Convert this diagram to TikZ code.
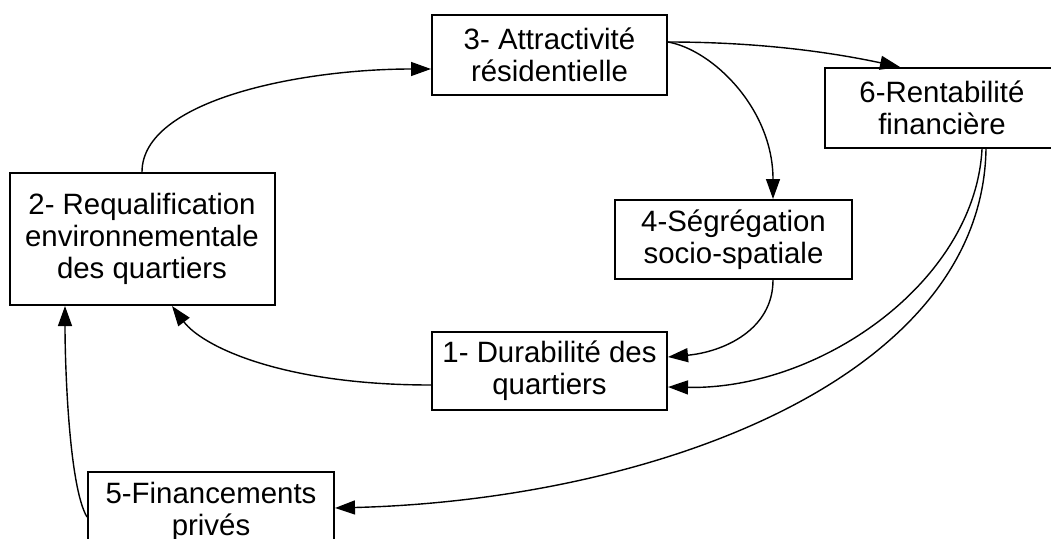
\documentclass[tikz,border=0pt]{standalone}
\usepackage{fontspec}
\setmainfont{Liberation Sans}
\usetikzlibrary{arrows.meta}
\tikzset{
  box/.style={draw=black, line width=2pt, fill=white, inner sep=0pt, align=center,
    font=\fontsize{29.4}{32}\selectfont},
  conn/.style={line width=1.4pt, -{Triangle[length=20pt,width=14pt]}}
}
\begin{document}
\begin{tikzpicture}[x=1pt,y=-1pt]
\useasboundingbox (0,0) rectangle (1051,538);
\fill[white] (0,0) rectangle (1051,538);
\clip (0,0) rectangle (1051,538);
\node[box, minimum width=265pt, minimum height=132pt] (b2) at (142,239) {2- Requalification\\environnementale\\des quartiers};
\node[box, minimum width=235pt, minimum height=80pt] (b3) at (549.5,55) {3- Attractivité\\résidentielle};
\node[box, minimum width=234pt, minimum height=80pt] (b6) at (942,108) {6-Rentabilité\\financière};
\node[box, minimum width=237pt, minimum height=79pt] (b4) at (733.5,239.5) {4-Ségrégation\\socio-spatiale};
\node[box, minimum width=235pt, minimum height=78pt] (b1) at (549.5,371) {1- Durabilité des\\quartiers};
\node[box, minimum width=246pt, minimum height=80pt] (b5) at (211,512) {5-Financements\\privés};

\draw[conn] (b2.north) .. controls +(0,-72) and +(-130,0) .. ([yshift=-14pt]b3.west);
\draw[conn] ([yshift=13pt]b3.east) .. controls +(90,0) and +(-70,-15) .. ([xshift=-42pt]b6.north);
\draw[conn] ([yshift=13pt]b3.east) .. controls +(45,8) and +(0,-90) .. ([xshift=39.5pt]b4.north);
\draw[conn] ([xshift=39.5pt]b4.south) .. controls +(0,50) and +(55,-5) .. ([yshift=14pt]b1.east);
\draw[conn] ([xshift=40pt]b6.south) .. controls +(-7,132) and +(153,3) .. ([yshift=-16pt]b1.east);
\draw[conn] ([xshift=44pt]b6.south) .. controls +(-4,232) and +(314,-8) .. ([yshift=4pt]b5.east);
\draw[conn] ([yshift=-14pt]b1.west) .. controls +(-150,0) and +(30,40) .. ([xshift=30pt]b2.south);
\draw[conn] ([yshift=-5pt]b5.west) .. controls +(-18,-30) and +(0,60) .. ([xshift=-77pt]b2.south);
\end{tikzpicture}
\end{document}
